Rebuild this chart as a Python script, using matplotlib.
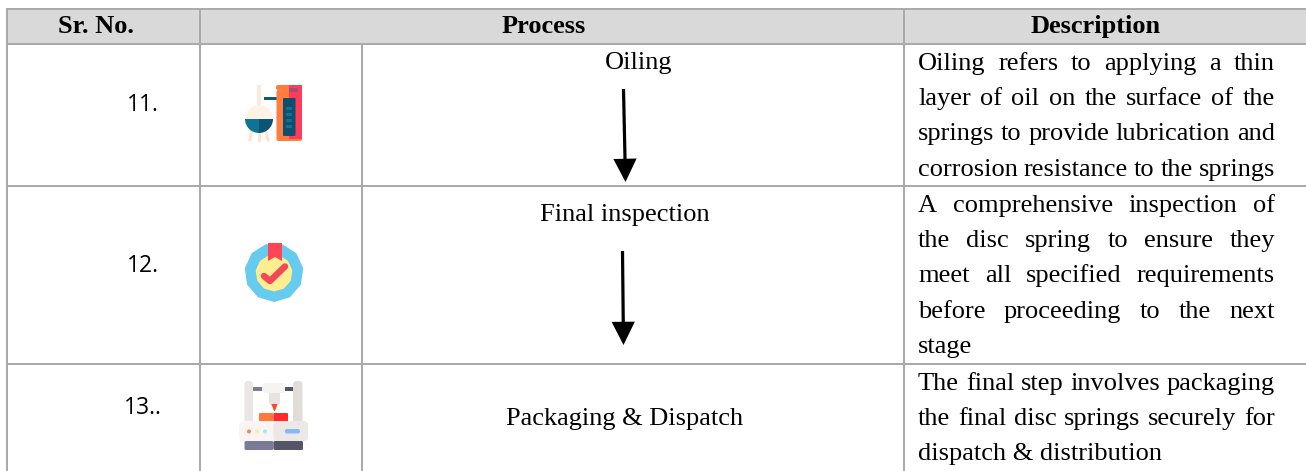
import matplotlib
matplotlib.use('Agg')
from matplotlib import pyplot as plt
from matplotlib.patches import Circle, Polygon, Rectangle, FancyBboxPatch, Wedge
import numpy as np

W, H = 1306, 471
GRID = '#aba9a9'
HEAD_BG = '#d9d9d9'
SERIF = 'Liberation Serif'

headers = ['Sr. No.', 'Process', 'Description']
sr_numbers = ['11.', '12.', '13..']
processes = ['Oiling', 'Final inspection', 'Packaging & Dispatch']

desc_oiling = ['Oiling refers to applying a thin',
               'layer of oil on the surface of the',
               'springs to provide lubrication and',
               'corrosion resistance to the springs']
desc_inspect = ['A comprehensive inspection of',
                'the disc spring to ensure they',
                'meet all specified requirements',
                'before proceeding to the next',
                'stage']
desc_packing = ['The final step involves packaging',
                'the final disc springs securely for',
                'dispatch & distribution']

fig = plt.figure(figsize=(W / 100, H / 100), dpi=100)
ax = fig.add_axes([0, 0, 1, 1])
ax.set_xlim(0, W)
ax.set_ylim(H, 0)
ax.axis('off')


def px(n):
    return n * 0.72


def rect(x0, y0, x1, y1, color, z=3):
    ax.add_patch(Rectangle((x0, y0), x1 - x0, y1 - y0, fc=color, ec='none', zorder=z))


def rbox(x0, y0, x1, y1, r, color, z=3):
    ax.add_patch(FancyBboxPatch((x0 + r, y0 + r), x1 - x0 - 2 * r, y1 - y0 - 2 * r,
                                boxstyle=f'round,pad={r},rounding_size={r}',
                                fc=color, ec='none', zorder=z))


def text_width(s, size):
    t = ax.text(0, 0, s, fontsize=size, family=SERIF)
    w = t.get_window_extent(fig.canvas.get_renderer()).width
    t.remove()
    return w


def justified(lines, top, left=918, right=1275, step=35.2, size=19, free_last=True):
    for i, line in enumerate(lines):
        y = top + i * step
        words = line.split(' ')
        if free_last and i == len(lines) - 1:
            ax.text(left, y, line, fontsize=size, family=SERIF, va='baseline', color='black')
            continue
        widths = [text_width(w, size) for w in words]
        gap = (right - left - sum(widths)) / (len(words) - 1)
        x = left
        for w, wd in zip(words, widths):
            ax.text(x, y, w, fontsize=size, family=SERIF, va='baseline', color='black')
            x += wd + gap


# table frame
rect(6, 8, W, 44, HEAD_BG, z=1)
for y in [8.5, 44, 186, 363.5]:
    ax.plot([6, W], [y, y], color=GRID, lw=px(2), zorder=2, solid_capstyle='butt')
for x, y0 in [(6.5, 8), (200, 8), (903.5, 8), (362, 44)]:
    ax.plot([x, x], [y0, H], color=GRID, lw=px(2), zorder=2, solid_capstyle='butt')

# header
for x, s in zip([95.5, 544, 1096], headers):
    ax.text(x, 33, s, fontsize=19, family=SERIF, fontweight='bold', ha='center', va='baseline')

# first column
for (x, y), s in zip([(143, 111), (143, 272), (143, 414)], sr_numbers):
    ax.text(x, y, s, fontsize=16.5, family='Open Sans', ha='center', va='baseline')

# process names
for (x, y), s in zip([(639, 69), (625, 220.5), (625, 425)], processes):
    ax.text(x, y, s, fontsize=19, family=SERIF, ha='center', va='baseline')

# arrows
for (x0, y0, x1, y1) in [(623.5, 89, 625.5, 182), (622.5, 251, 623.5, 345)]:
    ax.annotate('', xy=(x1, y1), xytext=(x0, y0),
                arrowprops=dict(arrowstyle='-|>,head_width=0.5,head_length=1.0',
                                color='black', lw=px(3.2), shrinkA=0, shrinkB=0,
                                mutation_scale=13, joinstyle='miter', capstyle='butt'))

justified(desc_oiling, 70, free_last=False)
justified(desc_inspect, 212)
justified(desc_packing, 390)

# oiling icon
for xa, xb in [(252, 250), (259, 259), (265, 268)]:
    ax.plot([xa, xb], [128, 140], color='#fde3cf', lw=px(3), zorder=3)
rect(257, 85, 261, 106, '#fde9d9')
ax.add_patch(Wedge((259, 119), 14, 180, 360, fc='#fff3e4', ec='none', zorder=3))
ax.add_patch(Wedge((259, 119), 14, 0, 90, fc='#0b5473', ec='none', zorder=4))
ax.add_patch(Wedge((259, 119), 14, 90, 180, fc='#0f7396', ec='none', zorder=4))
rect(263.5, 97, 280, 100, '#0d5a78')
rbox(276.5, 90, 302, 141, 2, '#ff7d3e')
rect(289, 90, 302, 139, '#ff3d5a')
rbox(276, 85, 302, 90, 2, '#ff7d3e')
rect(289, 85, 302, 90, '#ff3d5a')
rect(289, 88, 298, 92, '#a64a78')
rbox(283, 98, 295.5, 136, 1, '#0c4f6e', z=5)
for y in np.arange(108, 132, 6):
    rect(286, y - 1.5, 292, y + 1.5, '#156f8e', z=6)

# inspection icon
ang = np.linspace(-np.pi / 2, 1.5 * np.pi, 12)[:-1]
ax.add_patch(Polygon(np.c_[274 + 29.5 * np.cos(ang), 272.5 - 29.5 * np.sin(ang)],
                     fc='#66cbee', ec='none', zorder=3))
ax.add_patch(Polygon(np.c_[274 + 18.5 * np.cos(ang), 273 - 18.5 * np.sin(ang)],
                     fc='#fdee8f', ec='none', zorder=4))
ax.add_patch(Polygon([(268, 243), (282, 243), (282, 261), (275, 257), (268, 261)],
                     fc='#ff4654', ec='none', zorder=5))
ax.plot([264, 270, 285], [276, 281, 266.5], color='#f2495a', lw=px(6.5), zorder=6,
        solid_capstyle='round', solid_joinstyle='round')

# packaging icon
rbox(244.5, 381, 253, 425, 4, '#e9e7e5')
rbox(293, 381, 302.5, 425, 4, '#dfdcd9')
rect(253, 386.5, 262, 391, '#7d7c98')
rect(285, 386.5, 293, 391, '#55556a')
rbox(262, 383, 285, 393, 3, '#f7f3f1')
ax.add_patch(Polygon([(269, 393), (280, 393), (280, 403), (276, 408), (273, 408), (269, 403)],
                     fc='#e6e3e0', ec='none', zorder=3))
ax.add_patch(Polygon([(271.5, 404), (277.5, 404), (275, 411), (274, 411)],
                     fc='#ff4a25', ec='none', zorder=4))
rbox(259, 413, 273.5, 423, 1, '#ff7a3a')
rbox(273.5, 413, 288, 423, 1, '#ff2a2a')
rbox(239, 421, 308, 441, 5, '#faf4f2')
rbox(273.5, 421, 308, 441, 5, '#ebe8e6')
rect(273.5, 421, 282, 441, '#ebe8e6', z=3)
for x, c in [(249, '#ff8050'), (257, '#fdee8f'), (265, '#90eff5')]:
    ax.add_patch(Circle((x, 431.5), 2, fc=c, ec='none', zorder=5))
rbox(285, 429, 300, 433.5, 2, '#86b7f7', z=5)
rbox(244.5, 441, 273.5, 450, 1.5, '#7a7a96')
rbox(273.5, 441, 303, 450, 1.5, '#55556a')

fig.savefig('out.png', dpi=100)
